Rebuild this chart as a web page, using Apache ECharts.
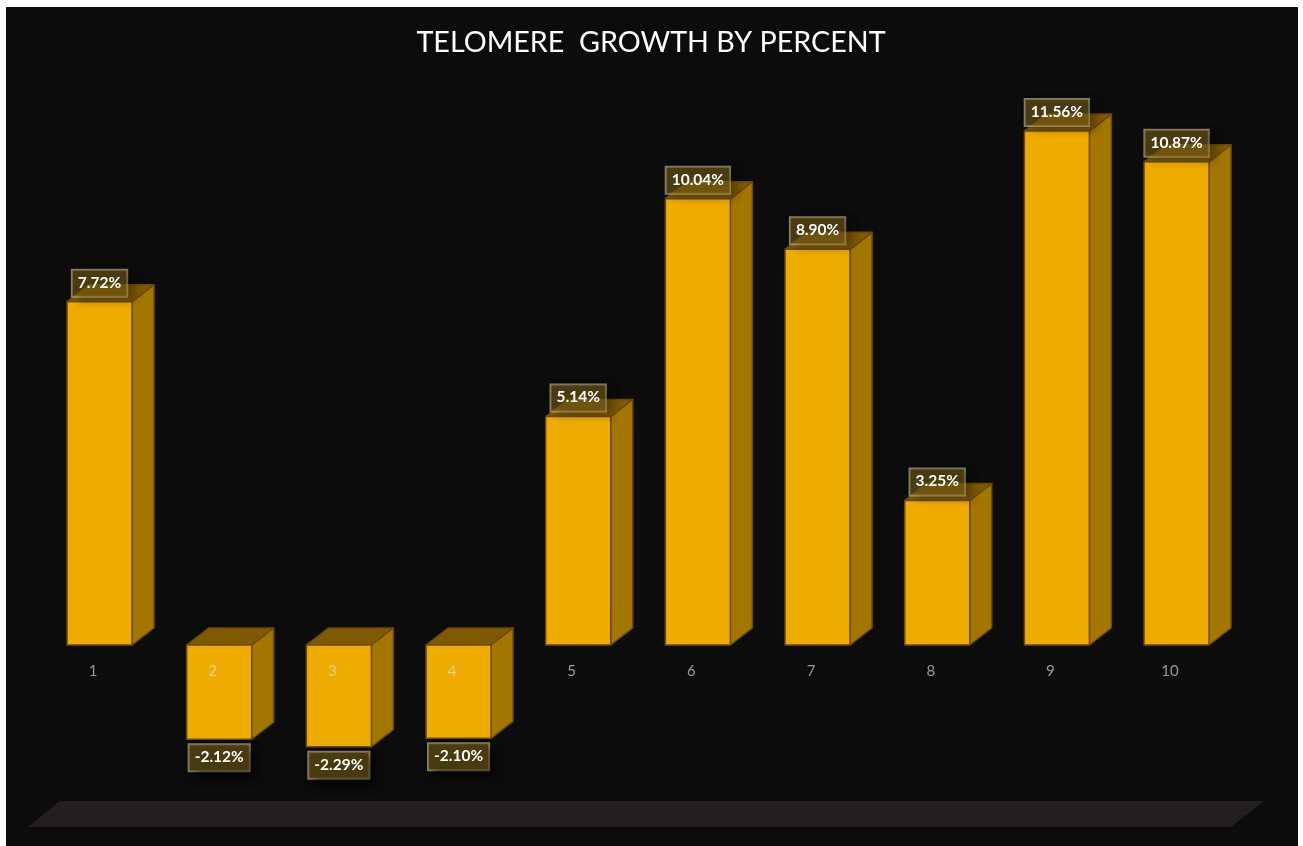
<!DOCTYPE html>
<html>
<head>
<meta charset="utf-8">
<title>Telomere growth by percent</title>
<script src="https://cdn.jsdelivr.net/npm/echarts@6/dist/echarts.min.js"></script>
<style>
  html, body { margin: 0; padding: 0; background: #ffffff; }
  #chart { width: 1303px; height: 846px; }
</style>
</head>
<body>
<div id="chart"></div>
<script>
// Sample numbers along the horizontal axis
const categories = ['1', '2', '3', '4', '5', '6', '7', '8', '9', '10'];
// Telomere growth for each sample, in percent
const growth = [7.72, -2.12, -2.29, -2.10, 5.14, 10.04, 8.90, 3.25, 11.56, 10.87];
const chartTitle = 'TELOMERE  GROWTH BY PERCENT';

// Box styling
const FRONT = '#efac00';
const SIDE = '#a37600';
const TOP = '#7f5a00';
const EDGE = '#6c4b04';
const DEPTH_X = 22;
const DEPTH_Y = 17;
const BAR_RATIO = 65 / 119.67;

// Plot frame; the category axis is lifted from the frame's bottom to the zero line
const GRID_TOP = 22.6;
const GRID_HEIGHT = 800.2;
const Y_MIN = -4;
const Y_MAX = 14;
const ZERO_LIFT = GRID_HEIGHT * (0 - Y_MIN) / (Y_MAX - Y_MIN);

const chart = echarts.init(document.getElementById('chart'), null, { renderer: 'canvas' });

// Each value becomes a small extruded box: front, side and top faces plus its label
function renderBox(params, api) {
  const index = api.value(0);
  const value = api.value(1);
  const base = api.coord([index, 0]);
  const tip = api.coord([index, value]);
  const width = api.size([1, 0])[0] * BAR_RATIO;
  const left = base[0] - width / 2;
  const right = left + width;
  const upper = Math.min(base[1], tip[1]);
  const lower = Math.max(base[1], tip[1]);
  const positive = value >= 0;
  const edgeStyle = { stroke: EDGE, lineWidth: 1.5, lineJoin: 'round' };
  const text = value.toFixed(2) + '%';

  return {
    type: 'group',
    children: [
      {
        type: 'polygon',
        shape: { points: [[right, upper], [right + DEPTH_X, upper - DEPTH_Y], [right + DEPTH_X, lower - DEPTH_Y], [right, lower]] },
        style: Object.assign({ fill: SIDE }, edgeStyle)
      },
      {
        type: 'polygon',
        shape: { points: [[left, upper], [left + DEPTH_X, upper - DEPTH_Y], [right + DEPTH_X, upper - DEPTH_Y], [right, upper]] },
        style: Object.assign({ fill: TOP }, edgeStyle)
      },
      {
        type: 'rect',
        shape: { x: left, y: upper, width: width, height: lower - upper },
        style: Object.assign({ fill: FRONT }, edgeStyle)
      },
      {
        type: 'text',
        z2: 20,
        style: {
          text: text,
          x: base[0],
          y: positive ? upper - 5 : lower + 5,
          align: 'center',
          verticalAlign: positive ? 'bottom' : 'top',
          fill: '#ffffff',
          font: 'bold 15.5px Lato, sans-serif',
          padding: [5, 6, 6, 6],
          backgroundColor: 'rgba(130,100,22,0.55)',
          borderColor: 'rgba(235,230,210,0.55)',
          borderWidth: 1,
          shadowColor: positive ? 'rgba(0,0,0,0.5)' : 'rgba(0,0,0,0.9)',
          shadowBlur: 8,
          shadowOffsetX: 6,
          shadowOffsetY: positive ? 3 : 6
        }
      }
    ]
  };
}

chart.setOption({
  animation: false,
  backgroundColor: '#ffffff',
  title: {
    text: chartTitle,
    left: 646,
    top: 23,
    textAlign: 'center',
    textStyle: { color: '#ffffff', fontFamily: 'Lato, sans-serif', fontWeight: 'normal', fontSize: 28.7 }
  },
  graphic: [
    {
      type: 'rect', silent: true, z: -10,
      shape: { x: 6, y: 7, width: 1292, height: 839 },
      style: { fill: '#0c0c0c' }
    },
    {
      type: 'polygon', silent: true, z: -9,
      shape: { points: [[60, 801], [1264, 801], [1231, 827], [28, 827]] },
      style: { fill: '#231f1e' }
    }
  ],
  grid: { left: 39.7, width: 1196.7, top: GRID_TOP, height: GRID_HEIGHT, outerBoundsMode: 'none' },
  xAxis: {
    type: 'category',
    data: categories,
    position: 'bottom',
    offset: -ZERO_LIFT,
    z: 10,
    axisLine: { show: false, onZero: false },
    axisTick: { show: false },
    axisLabel: {
      color: 'rgba(225,225,225,0.64)',
      fontFamily: 'Lato, sans-serif',
      fontSize: 15,
      margin: 19,
      interval: 0,
      padding: [0, 13, 0, 0]
    }
  },
  yAxis: {
    type: 'value',
    min: Y_MIN,
    max: Y_MAX,
    axisLine: { show: false },
    axisTick: { show: false },
    axisLabel: { show: false },
    splitLine: { show: false }
  },
  series: [{
    type: 'custom',
    name: 'Growth',
    renderItem: renderBox,
    clip: false,
    encode: { x: 0, y: 1 },
    data: growth.map((v, i) => [i, v])
  }]
});
</script>
</body>
</html>
